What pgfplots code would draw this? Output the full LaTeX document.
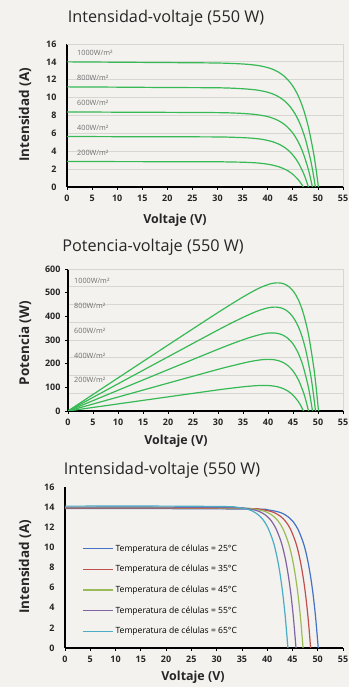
\documentclass[border=0pt]{standalone}
\usepackage{pgfplots}
\pgfplotsset{compat=1.18}
\usepackage{fontspec}
\setmainfont{Open Sans}
\definecolor{bg}{RGB}{243,242,239}
\definecolor{gridc}{RGB}{214,214,211}
\definecolor{pvgreen}{RGB}{55,185,85}
\definecolor{lblgray}{RGB}{110,110,110}
\definecolor{xlblue}{RGB}{68,114,196}
\definecolor{xlred}{RGB}{192,80,77}
\definecolor{xlgreen}{RGB}{155,187,89}
\definecolor{xlpurple}{RGB}{128,100,162}
\definecolor{xlcyan}{RGB}{75,172,198}
\tikzset{curvelbl/.style={anchor=west, font=\fontsize{7.3}{8}\selectfont, text=lblgray, inner sep=0pt}}
\pgfplotsset{
  mystyle/.style={
    scale only axis, axis lines=left, axis line style={-, line width=1.1bp, black},
    enlargelimits=false, xmin=0, xmax=55, xtick={0,5,...,55},
    tick align=outside, major tick length=3bp,
    tick style={black, line width=0.8bp},
    ticklabel style={font=\bfseries\fontsize{9}{9}\selectfont, text=black!85},
    xticklabel style={yshift=-1.5bp},
    yticklabel style={xshift=-4bp},
    /pgf/number format/assume math mode=true,
  },
  frameRT/.style={after end axis/.code={\draw[gridc,line width=0.9bp] (rel axis cs:0,1) -- (rel axis cs:1,1) -- (rel axis cs:1,0);}},
}
\begin{document}
\begin{tikzpicture}[x=1bp,y=1bp]
\path[use as bounding box, fill=bg] (0,0) rectangle (349,687);

% ---------- Chart 1 ----------
\begin{axis}[mystyle, frameRT, at={(67bp,500bp)}, anchor=south west, width=276bp, height=143bp,
  ymin=0, ymax=16, ytick={0,2,...,16}, ymajorgrids, grid style={gridc, line width=0.9bp},
  ytick style={/pgfplots/major tick length=0pt}]
\addplot[pvgreen, line width=1.2bp, smooth] coordinates {(0,14.00) (10,13.96) (20,13.92) (30,13.87) (35.1,13.76) (38.1,13.59) (40.1,13.34) (41.1,13.14) (42.1,12.86) (43.1,12.48) (44.1,11.94) (45.1,11.20) (46.1,10.17) (47.1,8.72) (48.1,6.71) (49.1,3.91) (49.6,2.12) (50.1,0)};
\addplot[pvgreen, line width=1.2bp, smooth] coordinates {(0,11.20) (10,11.17) (20,11.13) (30,11.10) (34.5,11.01) (37.5,10.87) (39.5,10.67) (40.5,10.51) (41.5,10.29) (42.5,9.98) (43.5,9.56) (44.5,8.96) (45.5,8.13) (46.5,6.98) (47.5,5.37) (48.5,3.13) (49.0,1.69) (49.5,0)};
\addplot[pvgreen, line width=1.2bp, smooth] coordinates {(0,8.40) (10,8.37) (20,8.35) (30,8.32) (33.9,8.26) (36.9,8.15) (38.9,8.00) (39.9,7.89) (40.9,7.72) (41.9,7.49) (42.9,7.17) (43.9,6.72) (44.9,6.10) (45.9,5.24) (46.9,4.03) (47.9,2.35) (48.4,1.27) (48.9,0)};
\addplot[pvgreen, line width=1.2bp, smooth] coordinates {(0,5.65) (10,5.63) (20,5.62) (30,5.60) (33.1,5.56) (36.1,5.49) (38.1,5.39) (39.1,5.31) (40.1,5.19) (41.1,5.04) (42.1,4.82) (43.1,4.52) (44.1,4.11) (45.1,3.52) (46.1,2.71) (47.1,1.58) (47.6,0.85) (48.1,0)};
\addplot[pvgreen, line width=1.2bp, smooth] coordinates {(0,2.85) (10,2.84) (20,2.83) (30,2.82) (32.1,2.80) (35.1,2.77) (37.1,2.72) (38.1,2.68) (39.1,2.62) (40.1,2.54) (41.1,2.43) (42.1,2.28) (43.1,2.07) (44.1,1.78) (45.1,1.37) (46.1,0.80) (46.6,0.43) (47.1,0)};
\node[curvelbl] at (axis cs:2,15.05) {1000W/m²};
\node[curvelbl] at (axis cs:2,12.15) {800W/m²};
\node[curvelbl] at (axis cs:2,9.36) {600W/m²};
\node[curvelbl] at (axis cs:2,6.58) {400W/m²};
\node[curvelbl] at (axis cs:2,3.79) {200W/m²};
\end{axis}

% ---------- Chart 2 ----------
\begin{axis}[mystyle, frameRT, at={(68bp,276bp)}, anchor=south west, width=275bp, height=142bp,
  ymin=0, ymax=600, ytick={0,100,...,600}, minor ytick={75,150,...,600}, yminorgrids,
  minor grid style={gridc, line width=0.9bp}, minor tick length=0pt,
  yticklabel style={xshift=3bp}]
\addplot[pvgreen, line width=1.2bp, smooth] coordinates {(0,0) (10,139.6) (20,278.4) (30,416.1) (35.1,483.0) (38.1,517.8) (40.1,534.9) (41.1,540.1) (42.1,541.4) (43.1,537.9) (44.1,526.6) (45.1,505.1) (46.1,468.8) (47.1,410.7) (48.1,322.8) (49.1,192.0) (49.6,105.2) (50.1,0)};
\addplot[pvgreen, line width=1.2bp, smooth] coordinates {(0,0) (10,114.8) (20,228.8) (30,342.3) (34.5,390.4) (37.5,419.0) (39.5,433.3) (40.5,437.6) (41.5,439.0) (42.5,436.1) (43.5,427.5) (44.5,409.9) (45.5,380.3) (46.5,333.7) (47.5,262.2) (48.5,156.0) (49.0,85.1) (49.5,0)};
\addplot[pvgreen, line width=1.2bp, smooth] coordinates {(0,0) (10,87.5) (20,174.5) (30,260.8) (33.9,292.6) (36.9,314.2) (38.9,325.2) (39.9,329.0) (40.9,329.9) (41.9,327.9) (42.9,321.4) (43.9,308.3) (44.9,286.2) (45.9,251.3) (46.9,197.5) (47.9,117.7) (48.4,64.3) (48.9,0)};
\addplot[pvgreen, line width=1.2bp, smooth] coordinates {(0,0) (10,58.9) (20,117.7) (30,175.9) (33.1,192.5) (36.1,207.4) (38.1,214.8) (39.1,217.3) (40.1,218.1) (41.1,216.8) (42.1,212.6) (43.1,204.2) (44.1,189.6) (45.1,166.4) (46.1,130.9) (47.1,77.9) (47.6,42.6) (48.1,0)};
\addplot[pvgreen, line width=1.2bp, smooth] coordinates {(0,0) (10,29.9) (20,59.7) (30,89.2) (32.1,94.9) (35.1,102.4) (37.1,106.2) (38.1,107.5) (39.1,108.0) (40.1,107.5) (41.1,105.4) (42.1,101.3) (43.1,94.1) (44.1,82.6) (45.1,65.0) (46.1,38.7) (46.6,21.2) (47.1,0)};
\node[curvelbl] at (axis cs:1.2,550) {1000W/m²};
\node[curvelbl] at (axis cs:1.2,445) {800W/m²};
\node[curvelbl] at (axis cs:1.2,340) {600W/m²};
\node[curvelbl] at (axis cs:1.2,231) {400W/m²};
\node[curvelbl] at (axis cs:1.2,130) {200W/m²};
\end{axis}

% ---------- Chart 3 ----------
\begin{axis}[mystyle, at={(65bp,39bp)}, anchor=south west, width=278bp, height=161bp,
  ymin=0, ymax=16, ytick={0,2,...,16}, ytick style={/pgfplots/major tick length=0pt},
  legend style={at={(rel axis cs:0.061,0.655)}, anchor=north west, draw=none, fill=none,
    font=\fontsize{8.6}{9}\selectfont, row sep=8.6bp, inner sep=0pt, cells={anchor=west}},
  legend image code/.code={\draw[#1, line width=1.4bp] (0bp,0bp) -- (30bp,0bp);}]
\addplot[xlblue, line width=1.2bp, smooth] coordinates {(0,13.85) (20,13.85) (38.1,13.80) (40.1,13.73) (42.1,13.54) (43.1,13.36) (44.1,13.05) (45.1,12.57) (46.1,11.79) (47.1,10.53) (47.6,9.64) (48.1,8.50) (48.6,7.06) (49.1,5.25) (49.6,2.94) (50.1,0)};
\addlegendentry{Temperatura de células = 25°C}
\addplot[xlred, line width=1.2bp, smooth] coordinates {(0,13.90) (20,13.90) (36.6,13.85) (38.6,13.78) (40.6,13.59) (41.6,13.40) (42.6,13.10) (43.6,12.61) (44.6,11.83) (45.6,10.56) (46.1,9.67) (46.6,8.53) (47.1,7.09) (47.6,5.27) (48.1,2.95) (48.6,0)};
\addlegendentry{Temperatura de células = 35°C}
\addplot[xlgreen, line width=1.2bp, smooth] coordinates {(0,13.95) (20,13.95) (35.1,13.90) (37.1,13.83) (39.1,13.64) (40.1,13.45) (41.1,13.15) (42.1,12.66) (43.1,11.87) (44.1,10.60) (44.6,9.71) (45.1,8.57) (45.6,7.11) (46.1,5.29) (46.6,2.96) (47.1,0)};
\addlegendentry{Temperatura de células = 45°C}
\addplot[xlpurple, line width=1.2bp, smooth] coordinates {(0,14.00) (20,14.00) (33.7,13.95) (35.7,13.88) (37.7,13.69) (38.7,13.50) (39.7,13.20) (40.7,12.71) (41.7,11.91) (42.7,10.64) (43.2,9.74) (43.7,8.60) (44.2,7.14) (44.7,5.31) (45.2,2.97) (45.7,0)};
\addlegendentry{Temperatura de células = 55°C}
\addplot[xlcyan, line width=1.2bp, smooth] coordinates {(0,14.10) (20,14.10) (32.1,14.05) (34.1,13.98) (36.1,13.79) (37.1,13.60) (38.1,13.29) (39.1,12.80) (40.1,12.00) (41.1,10.72) (41.6,9.81) (42.1,8.66) (42.6,7.19) (43.1,5.34) (43.6,2.99) (44.1,0)};
\addlegendentry{Temperatura de células = 65°C}
\end{axis}

% ---------- Titles and labels ----------
\node[font=\fontsize{16.3}{18}\selectfont, text=black!85] at (166,669) {Intensidad-voltaje (550 W)};
\node[font=\fontsize{16.3}{18}\selectfont, text=black!85] at (153,440) {Potencia-voltaje (550 W)};
\node[font=\fontsize{16.3}{18}\selectfont, text=black!85] at (162,217) {Intensidad-voltaje (550 W)};
\node[font=\bfseries\fontsize{13.5}{14}\selectfont, rotate=90, text=black!85] at (25,572) {Intensidad (A)};
\node[font=\bfseries\fontsize{13.5}{14}\selectfont, rotate=90, text=black!85] at (25,344) {Potencia (W)};
\node[font=\bfseries\fontsize{13.5}{14}\selectfont, rotate=90, text=black!85] at (25,120) {Intensidad (A)};
\node[font=\bfseries\fontsize{12.5}{14}\selectfont, text=black!85] at (175,467) {Voltaje (V)};
\node[font=\bfseries\fontsize{12.5}{14}\selectfont, text=black!85] at (176,246) {Voltaje (V)};
\node[font=\bfseries\fontsize{12.5}{14}\selectfont, text=black!85] at (193,10) {Voltaje (V)};
\end{tikzpicture}
\end{document}
